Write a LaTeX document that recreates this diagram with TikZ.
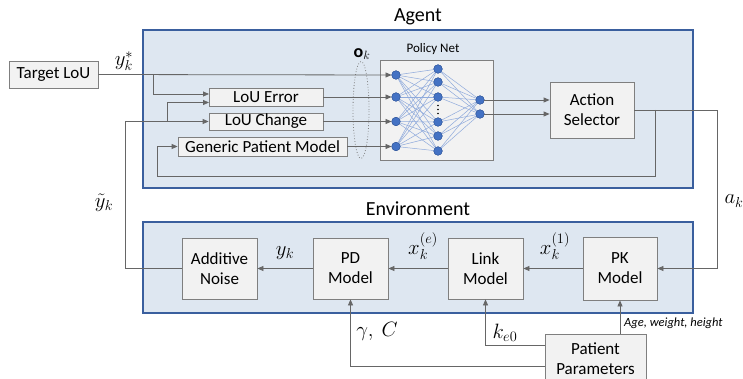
\documentclass[tikz,border=0pt]{standalone}
\usepackage{fontspec}
\setmainfont{Carlito}
\usetikzlibrary{arrows.meta,calc,shapes.geometric}
\definecolor{agentfill}{HTML}{DEE7F1}
\definecolor{agentborder}{HTML}{3A5F9E}
\definecolor{boxfill}{HTML}{F2F2F2}
\definecolor{boxdraw}{HTML}{7F7F7F}
\definecolor{wire}{HTML}{666666}
\definecolor{neuron}{HTML}{4472C4}
\definecolor{syn}{HTML}{8FAADC}
\begin{document}
\begin{tikzpicture}[x=1pt,y=-1pt,
 panel/.style={draw=agentborder,fill=agentfill,line width=1.2pt,inner sep=0pt},
 blk/.style={draw=boxdraw,fill=boxfill,line width=0.8pt,inner sep=0pt,align=center,font=\fontsize{17}{20}\selectfont},
 wireline/.style={draw=wire,line width=0.8pt},
 arr/.style={wireline,-{Triangle[length=6pt,width=5pt]}},
 neu/.style={circle,fill=neuron,draw=neuron!80!black,line width=0.4pt,minimum size=8.5pt,inner sep=0pt},
 synapse/.style={draw=syn,line width=0.5pt},
 lbl/.style={font=\fontsize{20}{24}\selectfont,inner sep=1pt},
 ttl/.style={font=\fontsize{20}{24}\selectfont}]
\useasboundingbox (0,0) rectangle (743,379);
% panels
\node[panel,minimum width=550pt,minimum height=158pt] (agent) at (418,109) {};
\node[panel,minimum width=550pt,minimum height=91pt] (env) at (418,267.5) {};
\node[ttl] (agentT) at (418,17) {Agent};
\node[ttl] (envT) at (418,209) {Environment};
% blocks
\node[blk,minimum width=89pt,minimum height=27pt] (tgt) at (53.5,74.5) {Target LoU};
\node[blk,minimum width=114pt,minimum height=18pt] (err) at (266,97) {LoU Error};
\node[blk,minimum width=114pt,minimum height=17pt] (chg) at (266,121.5) {LoU Change};
\node[blk,minimum width=169pt,minimum height=19pt] (gpm) at (262.5,146.5) {Generic Patient Model};
\node[blk,minimum width=113pt,minimum height=100pt] (net) at (436.5,110) {};
\node[font=\fontsize{13}{15}\selectfont] (netT) at (433,49) {Policy Net};
\node[blk,minimum width=84pt,minimum height=56pt] (act) at (592,110) {Action\\Selector};
\node[blk,minimum width=75pt,minimum height=61pt] (noise) at (219.5,268.5) {Additive\\Noise};
\node[blk,minimum width=75pt,minimum height=61pt] (pd) at (350.5,268.5) {PD\\Model};
\node[blk,minimum width=75pt,minimum height=61pt] (link) at (485.5,268.5) {Link\\Model};
\node[blk,minimum width=74pt,minimum height=63pt] (pk) at (620,268.5) {PK\\Model};
\node[blk,minimum width=101pt,minimum height=50pt] (pp) at (595.5,359) {Patient\\Parameters};
% neurons
\foreach \i/\y in {1/75,2/97,3/121.5,4/146.5} \node[neu] (in\i) at (396,\y) {};
\foreach \i/\y in {1/69,2/82,3/97,4/122,5/136,6/151} \node[neu] (h\i) at (438,\y) {};
\foreach \i/\y in {1/100,2/114} \node[neu] (o\i) at (480,\y) {};
\foreach \i in {1,...,4} \foreach \j in {1,...,6} \draw[synapse] (in\i) -- (h\j);
\foreach \j in {1,...,6} \foreach \k in {1,2} \draw[synapse] (h\j) -- (o\k);
\foreach \i in {1,...,4} \node[neu] at (in\i) {};
\foreach \j in {1,...,6} \node[neu] at (h\j) {};
\foreach \k in {1,2} \node[neu] at (o\k) {};
\foreach \y in {105.5,109.5,113.5} \fill[black] (438,\y) circle (0.8);
% observation ellipse
\node[ellipse,draw=gray,dotted,line width=0.8pt,minimum width=16pt,minimum height=97pt,inner sep=0pt] (obs) at (361,110) {};
\node[font=\fontsize{18}{22}\selectfont,inner sep=1pt] (okT) at (362,54) {$\mathbf{o}_k$};
% coordinates
\coordinate (b1) at (153,75);
\coordinate (fbL) at (125,121.5);
\coordinate (b2) at (167,121.5);
\coordinate (ak) at (717,110);
\coordinate (b3) at (655,110);
\coordinate (bl) at (157,176);
\coordinate (e1) at (209,94);
\coordinate (e2) at (209,102.5);
% agent wiring
\draw[arr] (tgt.east) -- (in1.west);
\draw[arr] (b1) |- (e1);
\draw[arr] (b2) |- (e2);
\draw[arr] (noise.west) -| (fbL) -- (chg.west);
\draw[arr] (err.east) -- (in2.west);
\draw[arr] (chg.east) -- (in3.west);
\draw[arr] (gpm.east) -- (in4.west);
\draw[arr] (o1.east) -- (o1.east -| act.west);
\draw[arr] (o2.east) -- (o2.east -| act.west);
\draw[arr] (act.east |- b3) -- (ak) |- (pk.east);
\draw[arr] (b3) |- (bl) |- (gpm.west);
% environment wiring
\draw[arr] (pk.west) -- (link.east);
\draw[arr] (link.west) -- (pd.east);
\draw[arr] (pd.west) -- (noise.east);
\draw[arr] (pp.north -| pk.south) -- (pk.south);
\draw[arr] ($(pp.north west)+(0,12)$) -| (link.south);
\draw[arr] ($(pp.north west)+(0,33)$) -| (pd.south);
% labels
\node[lbl] (ystarT) at (124,61) {$y_k^*$};
\node[lbl] (ytT) at (104,203) {$\tilde{y}_k$};
\node[lbl] (akT) at (734,201) {$a_k$};
\node[lbl] (ykT) at (285,253) {$y_k$};
\node[lbl] (xeT) at (423,246) {$x_k^{(e)}$};
\node[lbl] (x1T) at (555,246) {$x_k^{(1)}$};
\node[lbl] (gcT) at (377,331) {$\gamma,\ C$};
\node[lbl] (keT) at (505,333) {$k_{e0}$};
\node[font=\itshape\fontsize{12.5}{14}\selectfont,anchor=west,inner sep=0pt] (ageT) at (624,323) {Age, weight, height};
\end{tikzpicture}
\end{document}
